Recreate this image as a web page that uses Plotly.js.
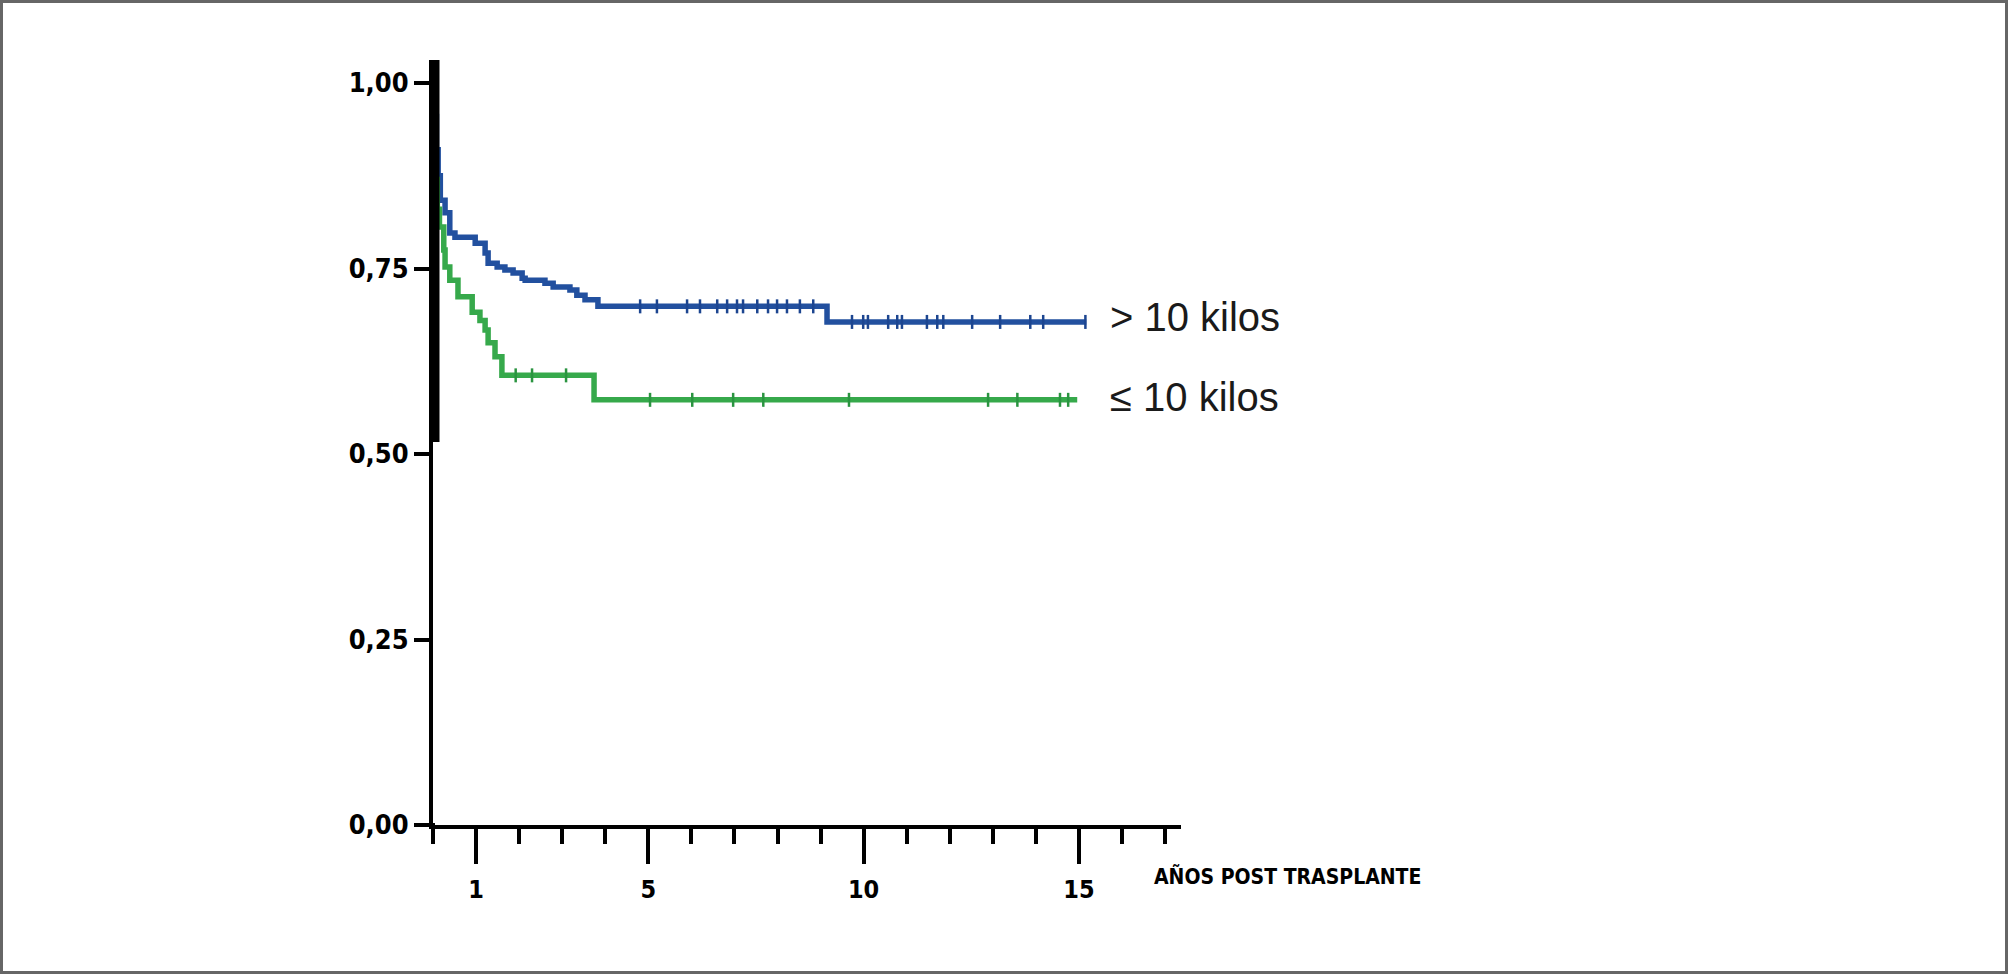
<!DOCTYPE html>
<html>
<head>
<meta charset="utf-8">
<script src="https://cdn.plot.ly/plotly-3.0.1.min.js"></script>
<style>
  html, body { margin: 0; padding: 0; background: #fff; }
  #wrap { position: relative; width: 2008px; height: 974px; }
  #chart { width: 2008px; height: 974px; }
  #frame { position: absolute; left: 0; top: 0; width: 2008px; height: 974px;
           box-sizing: border-box; border: 3px solid #666; pointer-events: none; }
</style>
</head>
<body>
<div id="wrap"><div id="chart"></div><div id="frame"></div></div>
<script>
// ---- Data ----
const blueName = "> 10 kilos";
const blueTimes = [0, 0.04, 0.08, 0.12, 0.17, 0.28, 0.39, 0.51, 0.98, 1.21, 1.28, 1.49, 1.67, 1.86, 2.07, 2.14, 2.60, 2.79, 3.18, 3.34, 3.53, 3.83, 9.15, 15.17];
const blueSurv  = [1.000, 0.955, 0.910, 0.875, 0.842, 0.825, 0.798, 0.792, 0.784, 0.771, 0.757, 0.752, 0.748, 0.744, 0.737, 0.734, 0.730, 0.725, 0.721, 0.714, 0.708, 0.699, 0.678, 0.678];
const blueCensor = [4.81, 5.20, 5.90, 6.20, 6.60, 6.83, 7.06, 7.20, 7.53, 7.78, 7.99, 8.22, 8.52, 8.83, 9.73, 9.99, 10.10, 10.57, 10.78, 10.89, 11.47, 11.71, 11.85, 12.52, 13.17, 13.87, 14.17, 15.15];

const greenName = "≤ 10 kilos";
const greenTimes = [0, 0.03, 0.06, 0.10, 0.15, 0.25, 0.28, 0.39, 0.58, 0.91, 1.09, 1.21, 1.28, 1.44, 1.60, 3.74, 14.96];
const greenSurv  = [1.000, 0.930, 0.870, 0.830, 0.806, 0.775, 0.752, 0.734, 0.712, 0.691, 0.680, 0.667, 0.650, 0.631, 0.606, 0.573, 0.573];
const greenCensor = [1.92, 2.30, 3.09, 5.04, 6.02, 6.97, 7.67, 9.66, 12.89, 13.57, 14.56, 14.75];

const yTickVals = [0, 0.25, 0.5, 0.75, 1.0];
const yTickText = ["0,00", "0,25", "0,50", "0,75", "1,00"];
const xTickVals = [1, 5, 10, 15];
const xTickText = ["1", "5", "10", "15"];
const xTitle = "AÑOS POST TRASPLANTE";

// ---- Helpers ----
function survAt(times, surv, t) {
  let v = surv[0];
  for (let i = 0; i < times.length; i++) { if (times[i] <= t) v = surv[i]; }
  return v;
}
const blueCol = "#22509f", greenCol = "#36a94b";

// pixel layout of the plot area
const L = 433, R = 1181, T = 60, B = 825;
const W = R - L, H = B - T;
const px = x => (x - L) / W;
const py = y => (B - y) / H;

const condensed = "DejaVu Sans Condensed, Liberation Sans Narrow, sans-serif";

const traces = [
  { x: blueTimes, y: blueSurv, mode: "lines", line: { shape: "hv", color: blueCol, width: 5.5 }, name: blueName, hoverinfo: "skip" },
  { x: greenTimes, y: greenSurv, mode: "lines", line: { shape: "hv", color: greenCol, width: 5.5 }, name: greenName, hoverinfo: "skip" },
  { x: blueCensor, y: blueCensor.map(t => survAt(blueTimes, blueSurv, t)), mode: "markers",
    marker: { symbol: "line-ns", size: 10, line: { width: 2.5, color: "#1c4590" } }, hoverinfo: "skip" },
  { x: greenCensor, y: greenCensor.map(t => survAt(greenTimes, greenSurv, t)), mode: "markers",
    marker: { symbol: "line-ns", size: 10, line: { width: 2.5, color: "#2a9440" } }, hoverinfo: "skip" }
];

const layout = {
  width: 2008, height: 974,
  margin: { l: L, r: 2008 - R, t: T, b: 974 - B, pad: 0 },
  paper_bgcolor: "#fff", plot_bgcolor: "#fff",
  showlegend: false,
  xaxis: {
    range: [0, 17.37], showgrid: false, zeroline: false,
    showline: true, linewidth: 4, linecolor: "#000",
    ticks: "outside", tickvals: xTickVals, ticktext: xTickText,
    ticklen: 35, tickwidth: 4, tickcolor: "#000",
    minor: { ticks: "outside", tick0: 0, dtick: 1, ticklen: 15, tickwidth: 4, tickcolor: "#000" },
    tickfont: { family: condensed, size: 25, weight: "bold", color: "#000" },
    ticklabelstandoff: 4
  },
  yaxis: {
    range: [0, 1.031], showgrid: false, zeroline: false,
    showline: true, linewidth: 4, linecolor: "#000",
    ticks: "outside", tickvals: yTickVals, ticktext: yTickText,
    ticklen: 15, tickwidth: 4, tickcolor: "#000",
    tickfont: { family: condensed, size: 27, weight: "bold", color: "#000" },
    ticklabelstandoff: 0
  },
  shapes: [
    // thick black segment at top of the y axis
    { type: "line", xref: "paper", yref: "paper", x0: px(436), x1: px(436), y0: py(60), y1: py(442),
      line: { color: "#000", width: 7 } },
    // y axis extension below x axis
    { type: "line", xref: "paper", yref: "paper", x0: px(433), x1: px(433), y0: py(823), y1: py(838),
      line: { color: "#000", width: 4 } }
  ],
  annotations: [
    { xref: "paper", yref: "paper", x: px(1108), y: py(317), xanchor: "left", yanchor: "middle",
      text: blueName, showarrow: false, font: { family: "Liberation Sans, Arial, sans-serif", size: 40, color: "#1a1a1a" } },
    { xref: "paper", yref: "paper", x: px(1108), y: py(397), xanchor: "left", yanchor: "middle",
      text: greenName, showarrow: false, font: { family: "Liberation Sans, Arial, sans-serif", size: 40, color: "#1a1a1a" } },
    { xref: "paper", yref: "paper", x: px(1152), y: py(876), xanchor: "left", yanchor: "middle",
      text: xTitle, showarrow: false, font: { family: condensed, size: 21, weight: "bold", color: "#000" } }
  ]
};

Plotly.newPlot("chart", traces, layout, { staticPlot: true, displayModeBar: false });
</script>
</body>
</html>
